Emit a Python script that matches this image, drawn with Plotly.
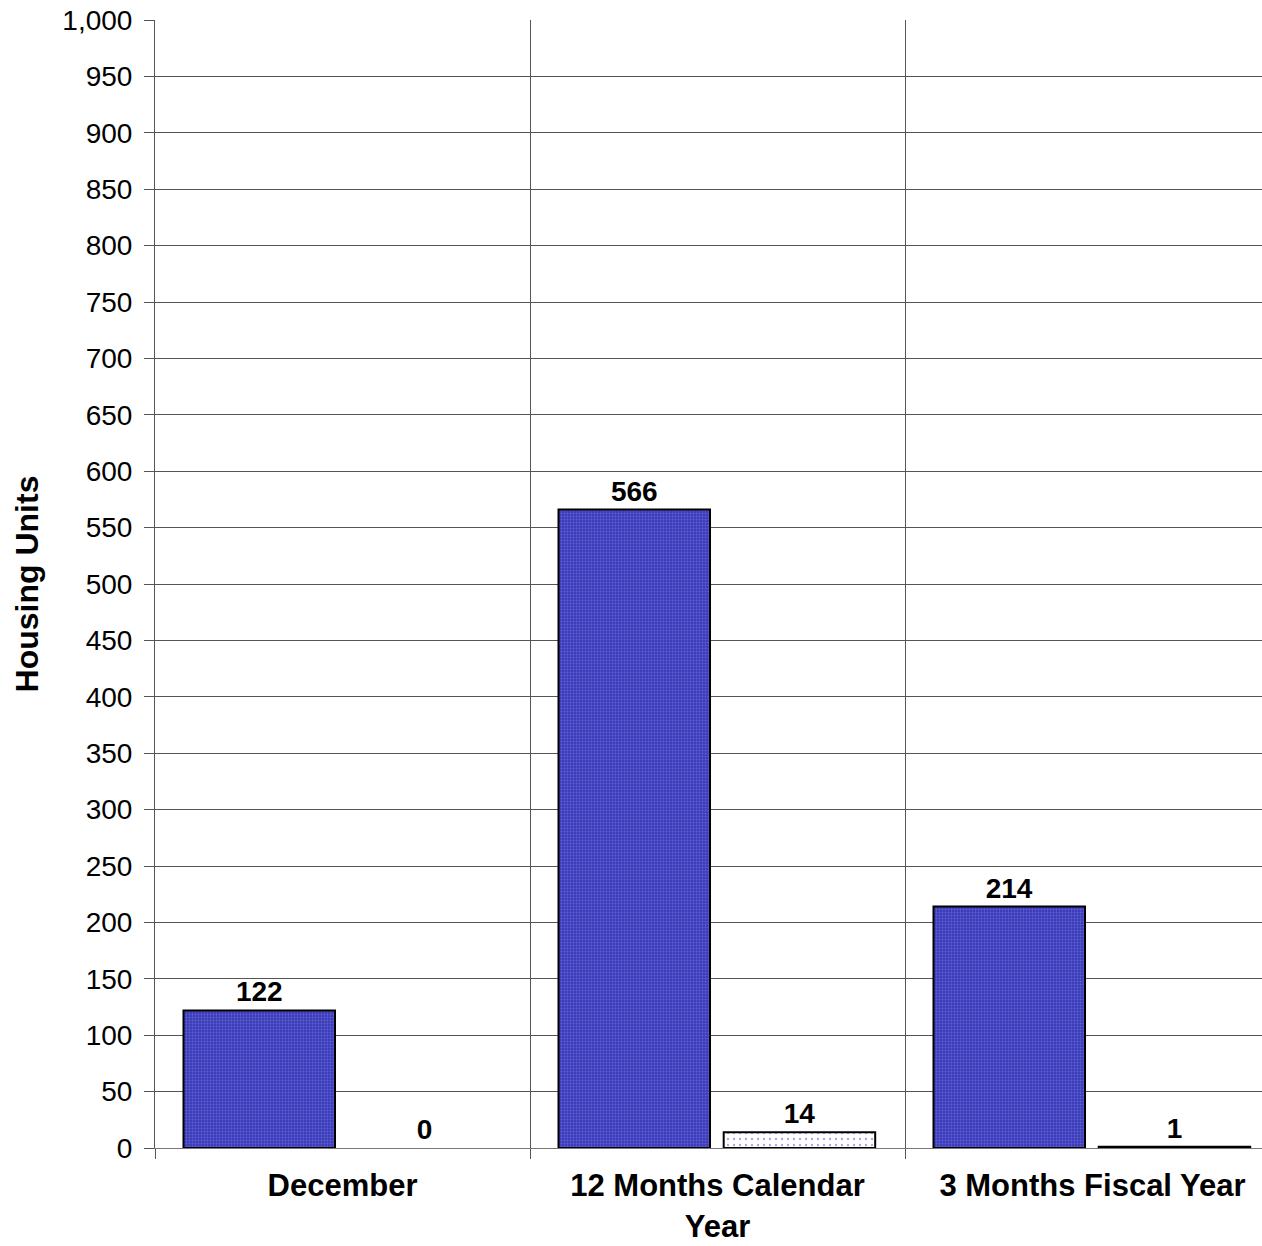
import plotly.graph_objects as go

categories = ["December", "12 Months Calendar<br>Year", "3 Months Fiscal Year"]
series_a = [122, 566, 214]
series_b = [0, 14, 1]
y_ticks = list(range(0, 1001, 50))

FONT = "Liberation Sans, Arial, sans-serif"

fig = go.Figure()
fig.add_trace(go.Bar(
    x=categories, y=series_a, width=0.404, offset=-0.424,
    marker=dict(color="#4040c0", line=dict(color="black", width=2),
                pattern=dict(shape=".", fgcolor="#8585f0", bgcolor="#3c3cb8", size=3, solidity=0.3)),
    text=[str(v) for v in series_a], textposition="outside", cliponaxis=False,
    textfont=dict(family=FONT, size=28, color="black", weight="bold"),
))
fig.add_trace(go.Bar(
    x=categories, y=series_b, width=0.404, offset=0.0165,
    marker=dict(color="white", line=dict(color="black", width=[0 if v == 0 else 2 for v in series_b]),
                pattern=dict(shape=".", fgcolor="#5050cc", bgcolor="white", size=6, solidity=0.12)),
    text=[str(v) for v in series_b], textposition="outside", cliponaxis=False,
    textfont=dict(family=FONT, size=28, color="black", weight="bold"),
))

fig.update_layout(
    width=1262, height=1246,
    margin=dict(l=155, r=0, t=20, b=98),
    paper_bgcolor="white", plot_bgcolor="white",
    barmode="overlay", showlegend=False,
    font=dict(family=FONT, color="black"),
)
fig.update_xaxes(
    range=[-0.5, 2.452], tickson="boundaries", ticks="outside", ticklen=10,
    tickcolor="#555", showgrid=True, gridcolor="#555", gridwidth=1,
    showline=True, linecolor="#777", linewidth=1, ticklabelstandoff=10,
    automargin=False, ticklabeloverflow="allow",
    tickfont=dict(family=FONT, size=31, color="black", weight="bold"),
)
fig.update_yaxes(
    range=[0, 1000], tickvals=y_ticks, tickformat=",d", ticks="outside", ticklen=10,
    tickcolor="#555", showgrid=True, gridcolor="#555", gridwidth=1,
    showline=True, linecolor="#555", linewidth=1, zeroline=False, ticklabelstandoff=6,
    ticklabeloverflow="allow",
    tickfont=dict(family=FONT, size=28, color="black"),
    title=dict(text="Housing Units", font=dict(family=FONT, size=32, color="black", weight="bold"), standoff=14),
)

fig.write_html("out.html", config={"displayModeBar": False},
               post_script="document.body.style.margin='0';document.body.style.overflow='hidden';")
